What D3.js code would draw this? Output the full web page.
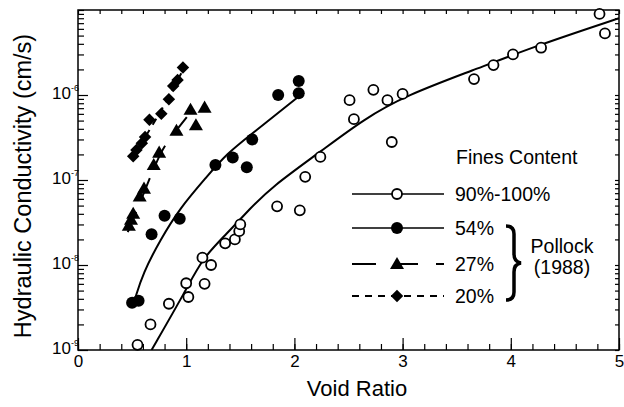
<!DOCTYPE html>
<html>
<head>
<meta charset="utf-8">
<script src="https://cdn.jsdelivr.net/npm/d3@7"></script>
<style>
    body { margin: 0; background: #fff; }
    svg { display: block; font-family: "Liberation Sans", Arial, Helvetica, sans-serif; }
    .axis path { display: none; }
    .axis line { stroke: #000; stroke-width: 1.2; }
</style>
</head>
<body>
<svg id="chart"></svg>
<script>
// DATA -- void ratio (e) and hydraulic conductivity (cm/s)

// 90%-100% fines
const eFine = [0.55, 0.67, 0.84, 1.00, 1.02, 1.17, 1.15, 1.23, 1.36, 1.45, 1.49, 1.50,
               1.84, 2.05, 2.10, 2.24, 2.51, 2.55, 2.73, 2.86, 2.90, 3.00, 3.66, 3.84,
               4.02, 4.28, 4.82, 4.87];
const kFine = [1.15e-9, 2.0e-9, 3.5e-9, 6.1e-9, 4.2e-9, 6.0e-9, 1.22e-8, 1.0e-8, 1.8e-8, 2.0e-8, 2.5e-8, 3.0e-8,
               4.9e-8, 4.4e-8, 1.09e-7, 1.87e-7, 8.7e-7, 5.2e-7, 1.15e-6, 8.7e-7, 2.8e-7, 1.03e-6, 1.54e-6, 2.25e-6,
               3.0e-6, 3.6e-6, 9.0e-6, 5.3e-6];
const eFineFit = [0.68, 1.00, 1.15, 1.37, 1.59, 1.79, 2.24, 2.64, 3.04, 3.65, 4.21, 5.00];
const kFineFit = [1.0e-9, 5.1e-9, 1.2e-8, 2.3e-8, 4.6e-8, 8.3e-8, 2.15e-7, 5.2e-7, 1.0e-6, 1.95e-6, 3.7e-6, 8.0e-6];

// 54% fines
const e54 = [0.50, 0.56, 0.68, 0.80, 0.94, 1.27, 1.43, 1.56, 1.61, 1.85, 2.04, 2.04];
const k54 = [3.6e-9, 3.8e-9, 2.3e-8, 3.8e-8, 3.5e-8, 1.5e-7, 1.84e-7, 1.41e-7, 3.0e-7, 1.0e-6, 1.05e-6, 1.46e-6];
const e54Fit = [0.53, 0.60, 0.76, 0.94, 1.19, 1.37, 1.62, 2.04];
const k54Fit = [4.1e-9, 8.0e-9, 1.97e-8, 4.65e-8, 1.09e-7, 2.02e-7, 3.6e-7, 9.6e-7];

// 27% fines
const e27 = [0.47, 0.49, 0.51, 0.57, 0.61, 0.70, 0.75, 0.91, 1.04, 1.09, 1.17];
const k27 = [2.9e-8, 3.4e-8, 4.0e-8, 6.4e-8, 7.9e-8, 1.5e-7, 2.1e-7, 3.8e-7, 6.7e-7, 4.4e-7, 7.1e-7];
const e27Fit = [0.46, 0.62, 0.77, 0.90, 1.05];
const k27Fit = [2.44e-8, 7.6e-8, 2.3e-7, 3.7e-7, 6.5e-7];

// 20% fines
const e20 = [0.51, 0.54, 0.59, 0.62, 0.66, 0.77, 0.84, 0.88, 0.92, 0.97];
const k20 = [1.9e-7, 2.25e-7, 2.7e-7, 3.2e-7, 5.1e-7, 6.0e-7, 8.9e-7, 1.28e-6, 1.5e-6, 2.1e-6];
const e20Fit = [0.50, 0.76, 0.97];
const k20Fit = [1.82e-7, 6.1e-7, 1.97e-6];

const xTicks = [0, 1, 2, 3, 4, 5];
const yExponents = [-9, -8, -7, -6];
const legendLabels = ['90%-100%', '54%', '27%', '20%'];

const W = 624, H = 407;
const plot = { left: 78, right: 619, top: 10, bottom: 350 };

const svg = d3.select('#chart').attr('width', W).attr('height', H);

const x = d3.scaleLinear().domain([0, 5]).range([plot.left, plot.right]);
const y = d3.scaleLog().domain([1e-9, 1e-5]).range([plot.bottom, plot.top]);

// AXES

// bottom minor + major
svg.append('g').attr('class', 'axis')
    .attr('transform', 'translate(0,' + plot.bottom + ')')
    .call(d3.axisBottom(x).tickValues(d3.range(0, 5.01, 0.2)).tickSize(-6).tickFormat(''));
const gx = svg.append('g').attr('class', 'axis')
    .attr('transform', 'translate(0,' + plot.bottom + ')')
    .call(d3.axisBottom(x).tickValues(xTicks).tickSize(-12).tickFormat(d3.format('d')));
gx.selectAll('text').attr('font-size', 17).attr('fill', '#000').attr('dy', '0.3em').attr('y', 12);

// top mirror ticks
svg.append('g').attr('class', 'axis')
    .attr('transform', 'translate(0,' + plot.top + ')')
    .call(d3.axisTop(x).tickValues(d3.range(0, 5.01, 0.2)).tickSize(-4).tickFormat(''));

// left minor + major
const yMajor = yExponents.map(p => Math.pow(10, p));
const yMinor = y.ticks().filter(v => !yMajor.some(m => Math.abs(m - v) / m < 1e-6));
svg.append('g').attr('class', 'axis')
    .attr('transform', 'translate(' + plot.left + ',0)')
    .call(d3.axisLeft(y).tickValues(yMinor).tickSize(-6).tickFormat(''));
const gy = svg.append('g').attr('class', 'axis')
    .attr('transform', 'translate(' + plot.left + ',0)')
    .call(d3.axisLeft(y).tickValues(yMajor).tickSize(-10).tickFormat(''));
gy.selectAll('.tick').each(function(d, i) {
    const t = d3.select(this).append('text')
        .attr('x', 1).attr('dy', 3)
        .attr('text-anchor', 'end')
        .attr('fill', '#000')
        .attr('font-size', 17);
    t.append('tspan').text('10');
    t.append('tspan').attr('font-size', 9).attr('dy', -8).text(yExponents[i]);
});

// right mirror ticks
svg.append('g').attr('class', 'axis')
    .attr('transform', 'translate(' + plot.right + ',0)')
    .call(d3.axisRight(y).tickValues(y.ticks()).tickSize(-4).tickFormat(''));

// frame
svg.append('rect')
    .attr('x', plot.left).attr('y', plot.top)
    .attr('width', plot.right - plot.left).attr('height', plot.bottom - plot.top)
    .attr('fill', 'none').attr('stroke', '#000').attr('stroke-width', 1.5);

// axis titles
svg.append('text')
    .attr('x', 357).attr('y', 396)
    .attr('text-anchor', 'middle').attr('font-size', 22)
    .text('Void Ratio');
svg.append('text')
    .attr('transform', 'translate(31,186) rotate(-90)')
    .attr('text-anchor', 'middle').attr('font-size', 23.5)
    .text('Hydraulic Conductivity (cm/s)');

// CURVES

svg.append('defs').append('clipPath').attr('id', 'clipPlot')
    .append('rect')
    .attr('x', plot.left).attr('y', plot.top)
    .attr('width', plot.right - plot.left).attr('height', plot.bottom - plot.top);

const line = d3.line()
    .x(d => x(d[0]))
    .y(d => y(d[1]))
    .curve(d3.curveBasis);

const gCurves = svg.append('g').attr('clip-path', 'url(#clipPlot)');

function fit(es, ks, dash, width) {
    gCurves.append('path')
        .datum(es.map((e, i) => [e, ks[i]]))
        .attr('d', line)
        .attr('fill', 'none')
        .attr('stroke', '#000')
        .attr('stroke-width', width)
        .attr('stroke-dasharray', dash);
}

fit(eFineFit, kFineFit, null, 2);
fit(e54Fit, k54Fit, null, 2);
fit(e27Fit, k27Fit, '22,14', 2);
fit(e20Fit, k20Fit, '7,6', 2);

// POINTS

const tri = d3.symbol().type(d3.symbolTriangle).size(85);
const sq = d3.symbol().type(d3.symbolSquare).size(78);

function drawMarker(g, kind) {
    if (kind === 'open') {
        g.append('circle').attr('r', 5).attr('fill', '#fff').attr('stroke', '#000').attr('stroke-width', 1.8);
    } else if (kind === 'filled') {
        g.append('circle').attr('r', 6).attr('fill', '#000');
    } else if (kind === 'tri') {
        g.append('path').attr('d', tri).attr('transform', 'translate(0,1)').attr('fill', '#000');
    } else {
        g.append('path').attr('d', sq).attr('transform', 'rotate(45)').attr('fill', '#000');
    }
}

function points(es, ks, kind) {
    svg.append('g').selectAll('g')
        .data(es.map((e, i) => [e, ks[i]]))
        .join('g')
        .attr('transform', d => 'translate(' + x(d[0]) + ',' + y(d[1]) + ')')
        .each(function() { drawMarker(d3.select(this), kind); });
}

points(eFine, kFine, 'open');
points(e54, k54, 'filled');
points(e27, k27, 'tri');
points(e20, k20, 'diamond');

// LEGEND

const lg = svg.append('g');
lg.append('text').attr('x', 456).attr('y', 164).attr('font-size', 19.5).text('Fines Content');

const legendKinds = ['open', 'filled', 'tri', 'diamond'];
const legendDash = [null, null, '24,18', '7,6'];
const legendY = [194, 228, 264, 296];

legendLabels.forEach((lab, i) => {
    lg.append('line')
        .attr('x1', 352).attr('x2', 444)
        .attr('y1', legendY[i]).attr('y2', legendY[i])
        .attr('stroke', '#000').attr('stroke-width', i < 2 ? 1.5 : 1.8)
        .attr('stroke-dasharray', legendDash[i]);
    const m = lg.append('g').attr('transform', 'translate(397,' + legendY[i] + ')');
    drawMarker(m, legendKinds[i]);
    lg.append('text').attr('x', 455).attr('y', legendY[i] + 7)
        .attr('font-size', 19.5).text(lab);
});

// brace
lg.append('path')
    .attr('d', 'M506,226 Q514,226 514,234 L514,254 Q514,262 521,263 Q514,264 514,272 L514,292 Q514,300 506,300')
    .attr('fill', 'none').attr('stroke', '#000').attr('stroke-width', 3.5);
lg.append('text').attr('x', 562).attr('y', 253).attr('text-anchor', 'middle')
    .attr('font-size', 19.5).text('Pollock');
lg.append('text').attr('x', 562).attr('y', 274).attr('text-anchor', 'middle')
    .attr('font-size', 19.5).text('(1988)');
</script>
</body>
</html>
